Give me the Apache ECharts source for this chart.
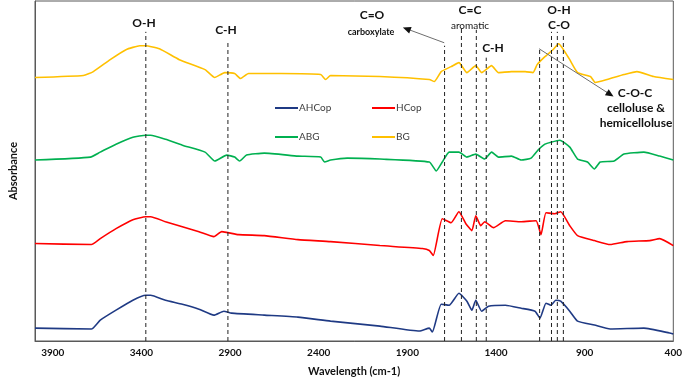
<!DOCTYPE html>
<html>
<head>
<meta charset="utf-8">
<script src="https://cdn.jsdelivr.net/npm/echarts@6/dist/echarts.min.js"></script>
<style>html,body{margin:0;padding:0;background:#fff}#c{width:685px;height:382px}</style>
</head>
<body>
<div id="c"></div>
<script>
// Wavenumber (cm-1) / relative absorbance (arbitrary offset units)
const seriesNames = ['AHCop', 'HCop', 'ABG', 'BG'];
const xTickLabels = [3900, 3400, 2900, 2400, 1900, 1400, 900, 400];

const AHCop = [[4000,13],[3682,12],[3632,21],[3543,31],[3448,41],[3376,46],[3348,46],[3264,41],[3169,37],[3075,32],[2991,26],[2935,30],[2891,28],[2707,26],[2517,24],[2333,20],[2055,15],[1832,10],[1776,13],[1759,9],[1709,37],[1664,36],[1609,48],[1564,40],[1536,31],[1514,41],[1481,30],[1442,35],[1347,36],[1258,33],[1180,30],[1152,23],[1118,38],[1090,36],[1063,41],[1035,40],[984,30],[940,20],[845,16],[756,12],[566,13],[421,8],[400,7]];
const HCop = [[4000,98],[3682,97],[3632,103],[3543,113],[3448,122],[3376,125],[3348,125],[3264,120],[3169,115],[3075,110],[2991,105],[2947,110],[2852,107],[2707,106],[2517,102],[2333,100],[2055,96],[1815,93],[1776,91],[1754,86],[1703,123],[1653,119],[1609,130],[1570,118],[1536,111],[1514,126],[1486,116],[1464,120],[1414,114],[1347,121],[1258,120],[1174,121],[1146,107],[1118,129],[1068,128],[1035,130],[984,116],[940,106],[845,101],[756,97],[661,100],[533,101],[477,103],[400,96]];
const ABG = [[4000,182],[3688,185],[3632,190],[3543,198],[3448,205],[3376,207],[3348,207],[3264,203],[3169,197],[3041,190],[2986,181],[2919,187],[2874,185],[2846,181],[2807,187],[2707,189],[2517,186],[2389,185],[2367,180],[2333,182],[2239,184],[2055,183],[1776,180],[1737,171],[1703,180],[1664,190],[1609,190],[1564,185],[1514,188],[1464,183],[1425,190],[1386,185],[1313,186],[1258,182],[1202,184],[1163,192],[1124,198],[1090,200],[1040,202],[984,195],[940,183],[884,180],[845,173],[812,180],[734,181],[678,188],[566,190],[477,186],[400,182]];
const BG = [[4000,265],[3727,267],[3671,271],[3576,283],[3487,293],[3409,297],[3376,297],[3298,294],[3186,283],[3041,273],[2986,265],[2930,270],[2874,269],[2841,264],[2796,269],[2724,269],[2612,269],[2389,268],[2361,263],[2333,267],[2055,266],[1776,263],[1748,261],[1709,271],[1653,276],[1609,280],[1564,270],[1514,277],[1481,270],[1425,277],[1386,270],[1313,271],[1235,271],[1191,270],[1168,278],[1124,286],[1079,293],[1046,299],[1012,291],[984,283],[940,270],[867,266],[840,260],[773,263],[678,268],[605,271],[511,266],[400,263]];

// Band assignments: [wavenumber, top of dashed guide]
const bandLines = [[3375,311],[2912,300],[1690,297],[1595,314],[1511,313],[1455,285],[1154,293],[1087,311],[1054,311],[1020,309]];
// Annotation arrows: [from, to]
const arrows = [[[1692,300],[1904,314]],[[1157,294],[756,248]]];

const colors = ['#1F3A84', '#FF0000', '#00B050', '#FFC000'];
const dataSets = [AHCop, HCop, ABG, BG];
const FONT = 'Lato, "Open Sans", sans-serif';

const series = dataSets.map((d, i) => ({
  name: seriesNames[i], type: 'line', data: d, symbol: 'none', smooth: 0.15,
  lineStyle: { color: colors[i], width: 1.6 }, itemStyle: { color: colors[i] },
  z: 3, silent: true
}));
bandLines.forEach((b, i) => {
  series.push({
    type: 'line', data: [[b[0], 0], [b[0], b[1]]], symbol: 'none', silent: true, z: 4,
    lineStyle: { color: '#222', width: 1, type: [4, 3] }
  });
});
// arrow shafts (gray)
series.push({
  type: 'line', data: [], silent: true, z: 5,
  markLine: {
    silent: true, symbol: ['none', 'none'], label: { show: false },
    lineStyle: { color: '#6e6e6e', width: 1, type: 'solid' },
    data: arrows.map(a => [{ coord: a[0] }, { coord: a[1] }])
  }
});
// arrow heads (black): last short part of each arrow
series.push({
  type: 'line', data: [], silent: true, z: 6,
  markLine: {
    silent: true, symbol: ['none', 'triangle'], symbolSize: [7, 8], label: { show: false },
    lineStyle: { color: '#111', width: 1, type: 'solid' },
    data: arrows.map(a => [
      { coord: [a[1][0] - (a[1][0] - a[0][0]) * 0.05, a[1][1] - (a[1][1] - a[0][1]) * 0.05] },
      { coord: a[1] }
    ])
  }
});

const legendPos = [[270, 98], [367, 98], [270, 127], [367, 127]];
const legend = seriesNames.map((n, i) => ({
  data: [n], left: legendPos[i][0], top: legendPos[i][1], icon: 'rect',
  itemWidth: 23, itemHeight: 2, selectedMode: false,
  textStyle: { fontFamily: FONT, fontSize: 10, color: '#404040', padding: [0, 0, 0, -4] }
}));

function txt(x, y, s, size, bold) {
  return { type: 'text', x: x, y: y, z: 10, style: { text: s, fontFamily: FONT, fontSize: size, fontWeight: bold ? 'bold' : 'normal', fill: '#111', align: 'center', verticalAlign: 'middle', textAlign: 'center', textVerticalAlign: 'middle' } };
}

const chart = echarts.init(document.getElementById('c'), null, { renderer: 'canvas' });
chart.setOption({
  animation: false,
  color: colors,
  grid: { left: 31, right: 8, top: 1, bottom: 39, show: true, borderColor: '#595959', borderWidth: 1 },
  legend,
  xAxis: {
    type: 'value', inverse: true, min: 400, max: 4000,
    name: 'Wavelength (cm-1)', nameLocation: 'middle', nameGap: 25,
    nameTextStyle: { fontFamily: FONT, fontSize: 11, fontWeight: 'bold', color: '#111' },
    axisLine: { lineStyle: { color: '#595959' } },
    axisTick: { show: false }, splitLine: { show: false },
    axisLabel: { customValues: xTickLabels, formatter: v => String(v), margin: 7, fontFamily: FONT, fontSize: 10, fontWeight: 'bold', color: '#111' }
  },
  yAxis: {
    type: 'value', min: 0, max: 342,
    name: 'Absorbance', nameLocation: 'middle', nameGap: 16,
    nameTextStyle: { fontFamily: FONT, fontSize: 11, fontWeight: 'bold', color: '#111' },
    axisLine: { show: true, lineStyle: { color: '#595959' } },
    axisTick: { show: false }, axisLabel: { show: false }, splitLine: { show: false }
  },
  graphic: [
    txt(144, 23, 'O-H', 12, true),
    txt(226, 30, 'C-H', 12, true),
    txt(372, 15, 'C=O', 12, true),
    txt(371, 32, 'carboxylate', 9, true),
    txt(470, 10, 'C=C', 12, true),
    txt(470, 26, 'aromatic', 10, false),
    txt(493, 48, 'C-H', 12, true),
    txt(559, 10, 'O-H', 12, true),
    txt(559, 25, 'C-O', 12, true),
    txt(635, 93, 'C-O-C', 12, true),
    txt(636, 108, 'celloluse &', 12, true),
    txt(636, 123, 'hemicelloluse', 12, true)
  ],
  series
});
</script>
</body>
</html>
